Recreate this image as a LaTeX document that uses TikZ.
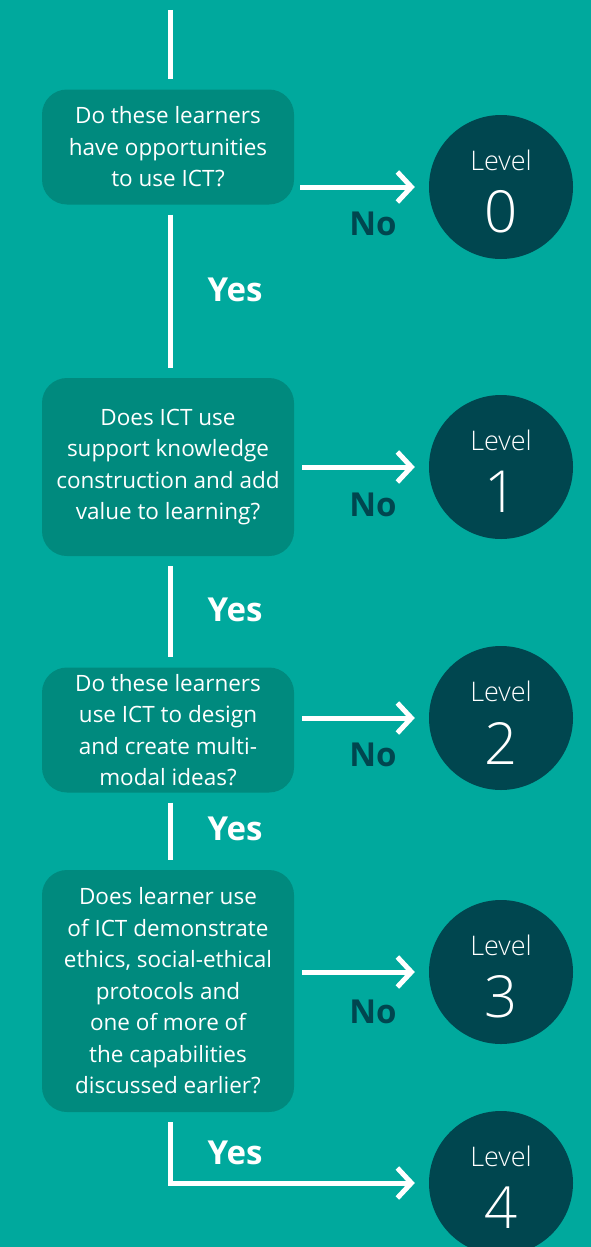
\documentclass[tikz,border=0pt]{standalone}
\usepackage{fontspec}
\setmainfont{Open Sans}
\newfontfamily\lightfont{Open Sans Light}
\usepackage{tikz}
\usetikzlibrary{arrows.meta,calc,positioning}
\definecolor{bgteal}{HTML}{00A99D}
\definecolor{boxteal}{HTML}{008A7E}
\definecolor{darkteal}{HTML}{00464F}

\begin{document}
\begin{tikzpicture}[
    x=1pt, y=-1pt,
    font=\fontsize{22.5}{31.5}\selectfont,
    qbox/.style={rectangle, rounded corners=25pt, fill=boxteal, text=white, align=center, minimum width=252pt, inner sep=0pt},
    lvl/.style={circle, fill=darkteal, minimum size=144pt, inner sep=0pt},
    lvword/.style={text=white, inner sep=0pt, font=\lightfont\fontsize{27}{27}\selectfont},
    lvnum/.style={text=white, inner sep=0pt, font=\lightfont\fontsize{58}{58}\selectfont},
    flow/.style={draw=white, line width=5pt, -{Straight Barb[length=14pt, width=30pt, line width=5pt]}},
    link/.style={draw=white, line width=5pt},
    nolab/.style={text=darkteal, font=\fontsize{33}{33}\selectfont\bfseries},
    yeslab/.style={text=white, font=\fontsize{33}{33}\selectfont\bfseries}
  ]
    \useasboundingbox[fill=bgteal] (0,0) rectangle (591,1247);
    % questions
    \node[qbox, minimum height=115pt] (q1) at (168,147) {Do these learners\\have opportunities\\to use ICT?};
    \node[qbox, minimum height=178pt] (q2) at (168,467) {Does ICT use\\support knowledge\\construction and add\\value to learning?};
    \node[qbox, minimum height=125pt] (q3) at (168,730) {Do these learners\\use ICT to design\\and create multi-\\modal ideas?};
    \node[qbox, minimum height=242pt] (q4) at (168,991) {Does learner use\\of ICT demonstrate\\ethics, social-ethical\\protocols and\\one of more of\\the capabilities\\discussed earlier?};
    % levels
    \foreach \n/\y in {0/187,1/467,2/718,3/972,4/1183} {
      \node[lvl] (lv\n) at (501,\y) {};
      \node[lvword] (lvw\n) at ([yshift=27pt]lv\n.center) {Level};
      \node[lvnum] (lvn\n) at ([yshift=-25pt]lv\n.center) {\n};
    }
    % labels
    \foreach \n/\y in {0/224,1/505,2/755,3/1012}
      \node[nolab] (no\n) at (373,\y) {No};
    \foreach \n/\y in {1/290,2/610,3/829,4/1153}
      \node[yeslab] (yes\n) at (235,\y) {Yes};
    \coordinate (start) at (170,10);
    % yes path
    \draw[link, shorten >=10pt] (start) -- (start |- q1.north);
    \draw[link, shorten <=10pt, shorten >=10pt] (start |- q1.south) -- (start |- q2.north);
    \draw[link, shorten <=10pt, shorten >=10pt] (start |- q2.south) -- (start |- q3.north);
    \draw[link, shorten <=10pt, shorten >=10pt] (start |- q3.south) -- (start |- q4.north);
    \draw[flow, shorten <=10pt, shorten >=14pt] (start |- q4.south) |- (lv4);
    % no arrows
    \draw[flow, shorten <=6pt, shorten >=14pt] (q1.east |- lv0) -- (lv0);
    \draw[flow, shorten <=8pt, shorten >=14pt] (q2.east |- lv1) -- (lv1);
    \draw[flow, shorten <=8pt, shorten >=14pt] (q3.east |- lv2) -- (lv2);
    \draw[flow, shorten <=8pt, shorten >=14pt] (q4.east |- lv3) -- (lv3);
  \end{tikzpicture}
\end{document}
